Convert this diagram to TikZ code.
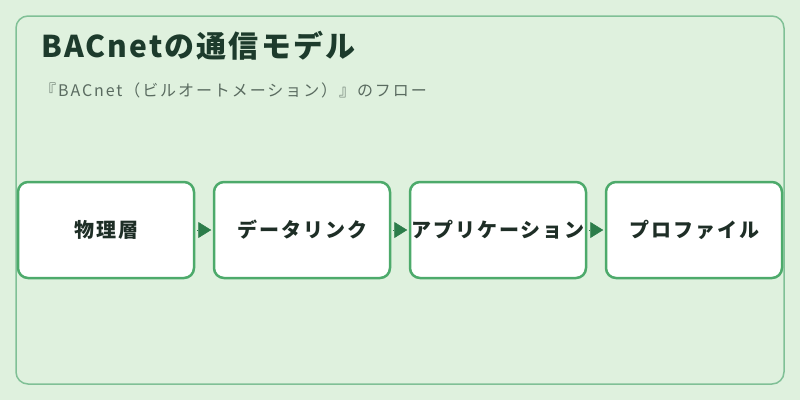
\documentclass[tikz,border=0pt]{standalone}
\usepackage{fontspec}
\usetikzlibrary{arrows.meta}
\newfontfamily\jptitle[LetterSpace=7]{Noto Sans CJK JP}
\newfontfamily\jpsub[LetterSpace=12]{Noto Sans CJK JP}
\newfontfamily\jpsp[LetterSpace=10]{Noto Sans CJK JP}
\definecolor{bgc}{HTML}{DFF1DE}
\definecolor{framec}{HTML}{80C096}
\definecolor{boxc}{HTML}{4DAA6B}
\definecolor{arrc}{HTML}{2C7D4A}
\definecolor{titlec}{HTML}{1D3B2C}
\definecolor{subc}{HTML}{5A6B60}
\definecolor{txtc}{HTML}{1E2E26}
\tikzset{
  stagebox/.style={draw=boxc, line width=2.5pt, fill=white, rounded corners=10pt,
    minimum width=176pt, minimum height=96pt, inner sep=0pt,
    font=\jpsp\bfseries\fontsize{20pt}{22pt}\selectfont, text=txtc},
  flowarrow/.style={draw=arrc, line width=0.5pt, -{Triangle[length=13pt,width=16pt]},
    shorten <=1.5pt, shorten >=1.5pt}
}
\begin{document}
\begin{tikzpicture}[x=1pt,y=-1pt]
\fill[bgc] (0,0) rectangle (800,400);
\useasboundingbox (0,0) rectangle (800,400);
\draw[framec, line width=1.5pt, rounded corners=12pt] (16,16) rectangle (784,384);
\node[anchor=base west, inner sep=0pt, text=titlec, font=\jptitle\bfseries\fontsize{30pt}{34pt}\selectfont] (title) at (41,57) {BACnetの通信モデル};
\node[anchor=base west, inner sep=0pt, text=subc, font=\jpsub\fontsize{16pt}{18pt}\selectfont] (sub) at (40,96) {『BACnet（ビルオートメーション）』のフロー};
\node[stagebox] (s1) at (106,230) {物理層};
\node[stagebox] (s2) at (302,230) {データリンク};
\node[stagebox] (s3) at (498,230) {アプリケーション};
\node[stagebox] (s4) at (694,230) {プロファイル};
\draw[flowarrow] (s1.east) -- (s2.west);
\draw[flowarrow] (s2.east) -- (s3.west);
\draw[flowarrow] (s3.east) -- (s4.west);
\end{tikzpicture}
\end{document}
